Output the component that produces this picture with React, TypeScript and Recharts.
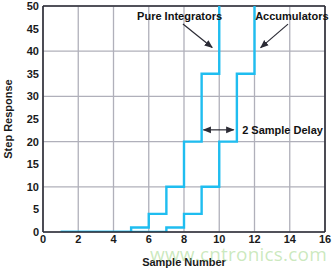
import {
  LineChart,
  Line,
  XAxis,
  YAxis,
  CartesianGrid,
  ReferenceLine,
  ReferenceDot,
} from 'recharts'

const samples = [1, 2, 3, 4, 5, 6, 7, 8, 9, 10, 11, 12]
const pureIntegrators = [0, 0, 0, 0, 1, 4, 10, 20, 35, 56, 84, 120]
const accumulators = [0, 0, 0, 0, 0, 0, 1, 4, 10, 20, 35, 56]

const xTicks = [0, 2, 4, 6, 8, 10, 12, 14, 16]
const yTicks = [0, 5, 10, 15, 20, 25, 30, 35, 40, 45, 50]

const BLUE = '#1fbdf0'
const DARK = '#2b2b35'
const GRID = '#b0b0ba'
const FONT = '"Liberation Sans", Arial, sans-serif'

const data = samples.map((n, i) => ({
  n,
  pure: pureIntegrators[i],
  acc: accumulators[i],
}))

const tickStyle = { fill: '#1a1a1a', fontSize: 11, fontWeight: 700, fontFamily: FONT }

function Note({ viewBox, value, anchor }: { viewBox?: any; value: string; anchor: 'start' | 'middle' }) {
  if (!viewBox) return null
  const cx = viewBox.cx ?? viewBox.x + (viewBox.width ?? 0) / 2
  const cy = viewBox.cy ?? viewBox.y + (viewBox.height ?? 0) / 2
  return (
    <text x={cx} y={cy} dy={4} textAnchor={anchor} fill="#111" fontSize={11} fontWeight={700} fontFamily={FONT}>
      {value}
    </text>
  )
}

export default function App() {
  return (
    <div style={{ position: 'absolute', left: 0, top: 0, width: 334, height: 270, background: '#fff' }}>
      <LineChart width={334} height={270} data={data} margin={{ top: 6, right: 9, bottom: 0, left: 0 }}>
        <defs>
          <marker id="head" viewBox="0 0 10 10" refX="9" refY="5" markerWidth="7" markerHeight="7" orient="auto-start-reverse">
            <path d="M0,1 L10,5 L0,9 z" fill={DARK} />
          </marker>
        </defs>
        <CartesianGrid stroke={GRID} strokeWidth={1.3} />
        <XAxis
          dataKey="n"
          type="number"
          domain={[0, 16]}
          ticks={xTicks}
          allowDataOverflow
          tick={tickStyle}
          tickLine={false}
          tickSize={3}
          tickMargin={0}
          axisLine={{ stroke: DARK, strokeWidth: 1.6 }}
          height={38}
          label={{
            value: 'Sample Number',
            position: 'insideBottom',
            offset: 4,
            fill: '#1a1a1a',
            fontSize: 11,
            fontWeight: 700,
            fontFamily: FONT,
          }}
        />
        <YAxis
          type="number"
          domain={[0, 50]}
          ticks={yTicks}
          allowDataOverflow
          tick={tickStyle}
          tickLine={false}
          tickSize={2}
          tickMargin={2}
          axisLine={{ stroke: DARK, strokeWidth: 1.6 }}
          width={43}
          label={{
            content: ({ viewBox }: any) => {
              const x = viewBox.x + 8
              const y = viewBox.y + viewBox.height / 2
              return (
                <text
                  x={x}
                  y={y}
                  transform={`rotate(-90, ${x}, ${y})`}
                  textAnchor="middle"
                  dominantBaseline="central"
                  fill="#1a1a1a"
                  fontSize={11}
                  fontWeight={700}
                  fontFamily={FONT}
                >
                  Step Response
                </text>
              )
            },
          }}
        />
        <ReferenceLine y={50} stroke={DARK} strokeWidth={1.6} />
        <ReferenceLine x={16} stroke={DARK} strokeWidth={1.6} />
        <Line type="stepAfter" dataKey="pure" stroke={BLUE} strokeWidth={2.4} dot={false} isAnimationActive={false} />
        <Line type="stepAfter" dataKey="acc" stroke={BLUE} strokeWidth={2.4} dot={false} isAnimationActive={false} />
        <ReferenceLine
          segment={[{ x: 7.94, y: 46 }, { x: 9.6, y: 40.8 }]}
          stroke={DARK}
          strokeWidth={1.2}
          markerEnd="url(#head)"
          ifOverflow="visible"
        />
        <ReferenceLine
          segment={[{ x: 13.9, y: 46 }, { x: 12.35, y: 40.8 }]}
          stroke={DARK}
          strokeWidth={1.2}
          markerEnd="url(#head)"
          ifOverflow="visible"
        />
        <ReferenceLine
          segment={[{ x: 9.1, y: 22.6 }, { x: 10.82, y: 22.6 }]}
          stroke={DARK}
          strokeWidth={1.2}
          markerStart="url(#head)"
          markerEnd="url(#head)"
          ifOverflow="visible"
        />
        <ReferenceDot x={7.75} y={47.8} r={1} fill="none" stroke="none" ifOverflow="visible"
          label={<Note value="Pure Integrators" anchor="middle" />} />
        <ReferenceDot x={14.12} y={47.8} r={1} fill="none" stroke="none" ifOverflow="visible"
          label={<Note value="Accumulators" anchor="middle" />} />
        <ReferenceDot x={11.3} y={22.6} r={1} fill="none" stroke="none" ifOverflow="visible"
          label={<Note value="2 Sample Delay" anchor="start" />} />
      </LineChart>
      <div
        style={{
          position: 'absolute',
          left: 150,
          top: 245,
          fontFamily: '"Open Sans", "Liberation Sans", sans-serif',
          fontSize: 19,
          color: 'rgba(140, 205, 110, 0.45)',
          letterSpacing: 0.2,
          lineHeight: 1,
          pointerEvents: 'none',
        }}
      >
        www.cntronics.com
      </div>
    </div>
  )
}
